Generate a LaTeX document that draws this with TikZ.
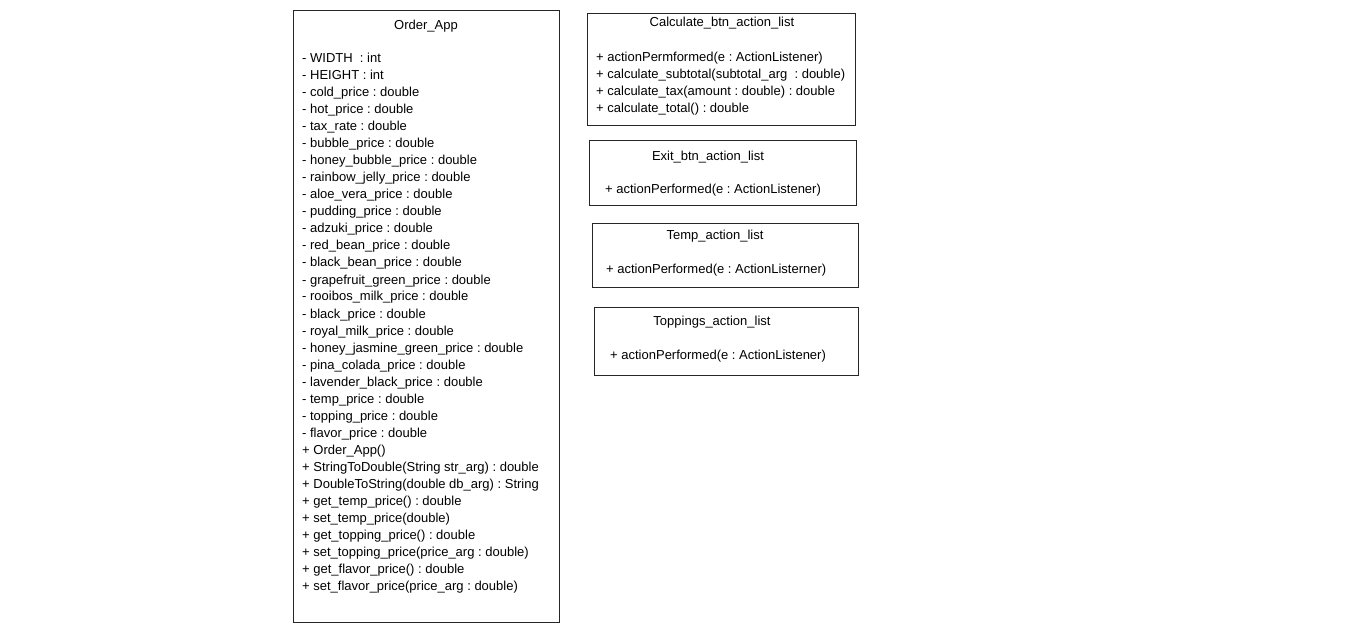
\documentclass[tikz,border=0pt]{standalone}
\usepackage{fontspec}
\setmainfont{Liberation Sans}
\frenchspacing
\begin{document}
\begin{tikzpicture}[x=1pt,y=-1pt,
  classbox/.style={draw=black!85, line width=1.25pt, fill=white, anchor=north west, inner sep=0pt},
  member/.style={anchor=base west, inner sep=0pt, font=\fontsize{13}{15}\selectfont},
  title/.style={anchor=base, inner sep=0pt, font=\fontsize{13}{15}\selectfont}]
\useasboundingbox (0,0) rectangle (1354,636);

% Order_App class
\node[classbox, minimum width=266pt, minimum height=612pt] (order) at (293,10) {};
\node[title] (orderT) at (426,30) {Order\_App};
\foreach \i/\t in {0/{- WIDTH~ : int},1/{- HEIGHT : int},2/{- cold\_price : double},
  3/{- hot\_price : double},4/{- tax\_rate : double},5/{- bubble\_price : double},
  6/{- honey\_bubble\_price : double},7/{- rainbow\_jelly\_price : double},
  8/{- aloe\_vera\_price : double},9/{- pudding\_price : double},
  10/{- adzuki\_price : double},11/{- red\_bean\_price : double},
  12/{- black\_bean\_price : double},13/{- grapefruit\_green\_price : double},
  14/{- rooibos\_milk\_price : double},15/{- black\_price : double},
  16/{- royal\_milk\_price : double},17/{- honey\_jasmine\_green\_price : double},
  18/{- pina\_colada\_price : double},19/{- lavender\_black\_price : double},
  20/{- temp\_price : double},21/{- topping\_price : double},
  22/{- flavor\_price : double},23/{+ Order\_App()},
  24/{+ StringToDouble(String str\_arg) : double},
  25/{+ DoubleToString(double db\_arg) : String},
  26/{+ get\_temp\_price() : double},27/{+ set\_temp\_price(double)},
  28/{+ get\_topping\_price() : double},
  29/{+ set\_topping\_price(price\_arg : double)},
  30/{+ get\_flavor\_price() : double},
  31/{+ set\_flavor\_price(price\_arg : double)}}
  \node[member] (orderM\i) at (302,63+17*\i) {\t};

% Calculate_btn_action_list class
\node[classbox, minimum width=268pt, minimum height=112pt] (calc) at (587,13) {};
\node[title] (calcT) at (722,27) {Calculate\_btn\_action\_list};
\node[member] (calcM0) at (596,62) {+ actionPermformed(e : ActionListener)};
\node[member] (calcM1) at (596,79) {+ calculate\_subtotal(subtotal\_arg~ : double)};
\node[member] (calcM2) at (596,96) {+ calculate\_tax(amount : double) : double};
\node[member] (calcM3) at (596,113) {+ calculate\_total() : double};

% Exit_btn_action_list class
\node[classbox, minimum width=267pt, minimum height=65pt] (exit) at (589,140) {};
\node[title] (exitT) at (708,161) {Exit\_btn\_action\_list};
\node[member] (exitM0) at (605,194) {+ actionPerformed(e : ActionListener)};

% Temp_action_list class
\node[classbox, minimum width=266pt, minimum height=64pt] (temp) at (592,223) {};
\node[title] (tempT) at (715,240) {Temp\_action\_list};
\node[member] (tempM0) at (606,274) {+ actionPerformed(e : ActionListerner)};

% Toppings_action_list class
\node[classbox, minimum width=264pt, minimum height=68pt] (top) at (594,307) {};
\node[title] (topT) at (712,325) {Toppings\_action\_list};
\node[member] (topM0) at (610,359) {+ actionPerformed(e : ActionListener)};
\end{tikzpicture}
\end{document}
